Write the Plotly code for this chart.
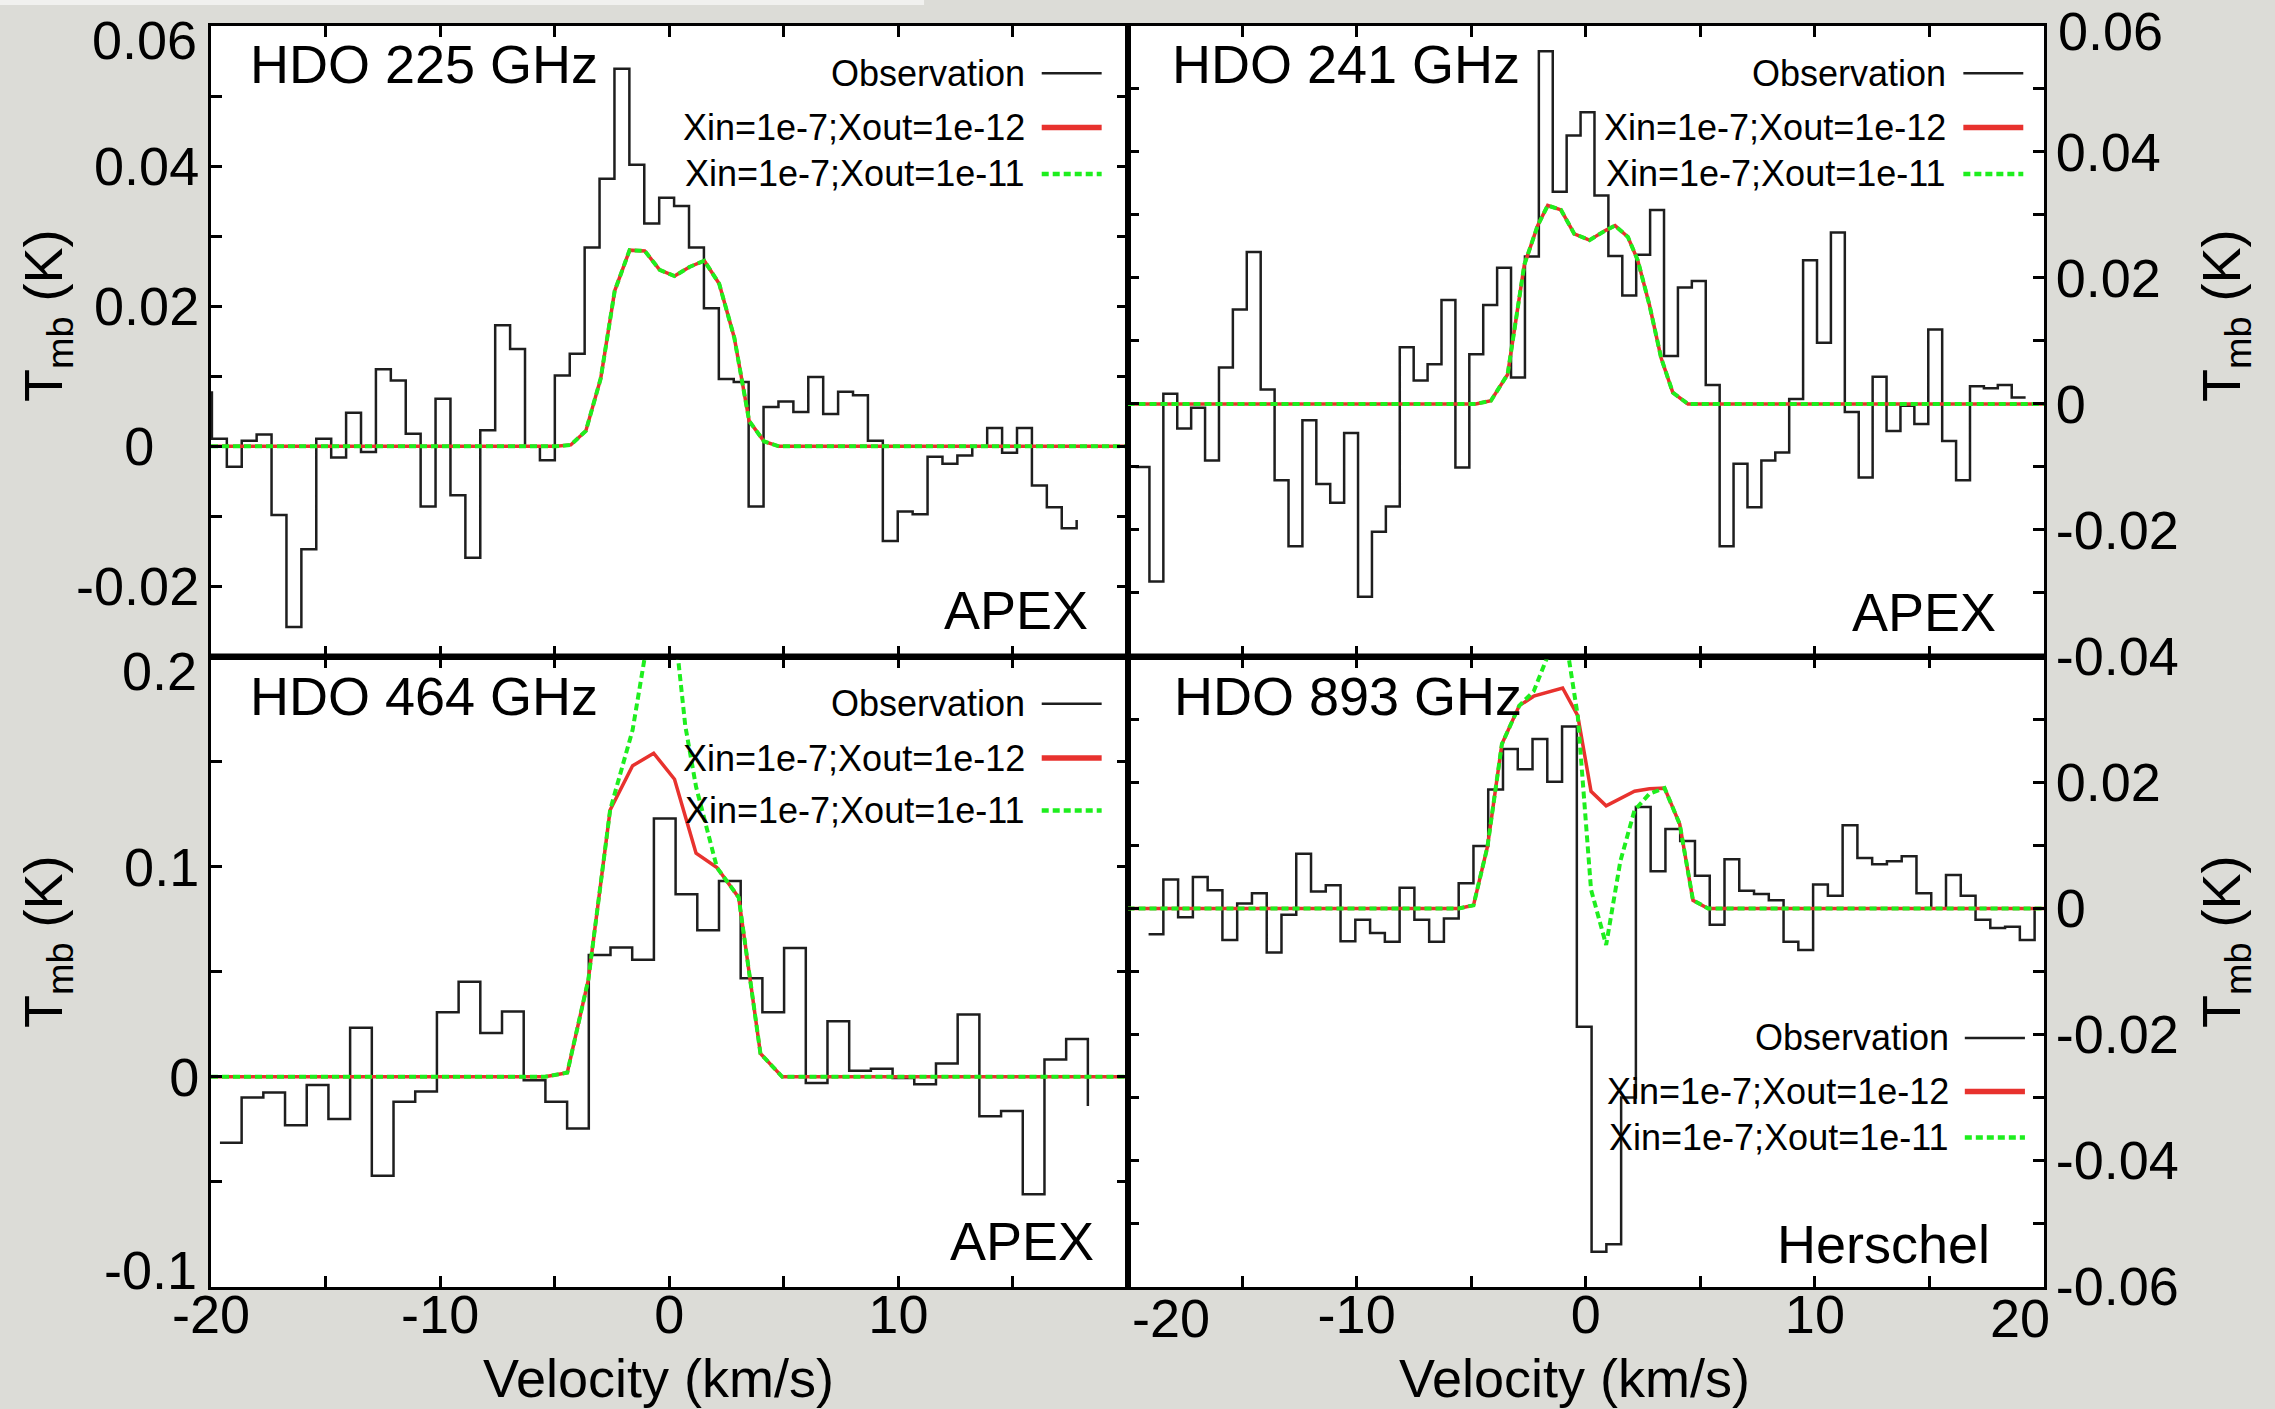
import plotly.graph_objects as go

FONT = "Liberation Sans, Arial, Helvetica, sans-serif"

# ---------------- data ----------------
# Observed spectra: first channel edge, channel width, channel values (K)
tl_edge0, tl_width = -19.96, 0.6507
tl_pre, tl_tail = 0.0077, -0.0105
tl_obs = [0.0011, -0.0029, 0.0008, 0.0017, -0.0098, -0.0258, -0.0147, 0.0011, -0.0016, 0.0048,
          -0.0008, 0.0110, 0.0094, 0.0018, -0.0086, 0.0068, -0.0070, -0.0159, 0.0023, 0.0173,
          0.0139, 0.0000, -0.0020, 0.0101, 0.0132, 0.0284, 0.0382, 0.0539, 0.0402, 0.0318,
          0.0355, 0.0343, 0.0284, 0.0197, 0.0096, 0.0092, -0.0086, 0.0056, 0.0064, 0.0049,
          0.0099, 0.0046, 0.0078, 0.0073, 0.0008, -0.0135, -0.0093, -0.0097, -0.0015, -0.0025,
          -0.0013, 0.0000, 0.0026, -0.0009, 0.0026, -0.0056, -0.0087, -0.0117]

tr_edge0, tr_width = -19.65, 0.607
tr_obs = [-0.0100, -0.0282, 0.0016, -0.0039, -0.0006, -0.0090, 0.0058, 0.0150, 0.0241, 0.0023,
          -0.0121, -0.0226, -0.0026, -0.0127, -0.0157, -0.0046, -0.0306, -0.0203, -0.0163, 0.0090,
          0.0037, 0.0063, 0.0165, -0.0101, 0.0079, 0.0157, 0.0216, 0.0042, 0.0234, 0.0560,
          0.0337, 0.0426, 0.0463, 0.0331, 0.0235, 0.0172, 0.0237, 0.0308, 0.0076, 0.0185,
          0.0195, 0.0030, -0.0226, -0.0095, -0.0164, -0.0090, -0.0077, 0.0008, 0.0228, 0.0097,
          0.0272, -0.0013, -0.0117, 0.0043, -0.0043, -0.0003, -0.0032, 0.0118, -0.0059, -0.0121,
          0.0028, 0.0025, 0.0030, 0.0010]

bl_edge0, bl_width = -19.61, 0.947
bl_tail = -0.0139
bl_obs = [-0.0314, -0.0098, -0.0074, -0.0230, -0.0039, -0.0201, 0.0234, -0.0471, -0.0119, -0.0070,
          0.0307, 0.0453, 0.0209, 0.0311, -0.0016, -0.0119, -0.0246, 0.0580, 0.0615, 0.0557,
          0.1229, 0.0869, 0.0697, 0.0932, 0.0469, 0.0307, 0.0613, -0.0029, 0.0264, 0.0029,
          0.0039, -0.0006, -0.0035, 0.0063, 0.0297, -0.0188, -0.0162, -0.0559, 0.0082, 0.0180]

br_edge0, br_width = -19.08, 0.6445
br_tail = 0.0
br_obs = [-0.0041, 0.0046, -0.0014, 0.0050, 0.0029, -0.0050, 0.0008, 0.0024, -0.0070, -0.0010,
          0.0087, 0.0027, 0.0037, -0.0052, -0.0018, -0.0039, -0.0053, 0.0033, -0.0018, -0.0053,
          -0.0016, 0.0040, 0.0099, 0.0189, 0.0253, 0.0221, 0.0269, 0.0201, 0.0289, -0.0188,
          -0.0545, -0.0533, -0.0300, 0.0161, 0.0059, 0.0126, 0.0107, 0.0052, -0.0026, 0.0078,
          0.0028, 0.0023, 0.0013, -0.0053, -0.0066, 0.0038, 0.0020, 0.0132, 0.0080, 0.0070,
          0.0075, 0.0083, 0.0024, 0.0000, 0.0053, 0.0020, -0.0018, -0.0031, -0.0029, -0.0050]

# Model spectra (velocity, Tmb)
tl_mod_v = [-20, -4.95, -4.30, -3.64, -2.99, -2.38, -1.73, -1.07, -0.42, 0.23, 0.88, 1.53, 2.18, 2.84, 3.49, 4.14, 4.79, 20]
tl_mod_12 = [0, 0, 0.0002, 0.0022, 0.0097, 0.0222, 0.0280, 0.0279, 0.0252, 0.0243, 0.0256, 0.0265, 0.0232, 0.0155, 0.0036, 0.0007, 0, 0]
tl_mod_11 = [0, 0, 0.0002, 0.0022, 0.0097, 0.0222, 0.0280, 0.0279, 0.0252, 0.0243, 0.0256, 0.0265, 0.0232, 0.0155, 0.0036, 0.0007, 0, 0]

tr_mod_v = [-20, -4.80, -4.14, -3.41, -2.68, -2.10, -1.66, -1.08, -0.50, 0.16, 0.89, 1.28, 1.84, 2.27, 2.78, 3.29, 3.80, 4.46, 20]
tr_mod_12 = [0, 0, 0.0005, 0.0047, 0.0221, 0.0283, 0.0315, 0.0308, 0.0270, 0.0260, 0.0276, 0.0283, 0.0265, 0.0228, 0.0157, 0.0073, 0.0018, 0, 0]
tr_mod_11 = [0, 0, 0.0005, 0.0047, 0.0221, 0.0283, 0.0315, 0.0308, 0.0270, 0.0260, 0.0276, 0.0283, 0.0265, 0.0228, 0.0157, 0.0073, 0.0018, 0, 0]

bl_mod_v = [-20, -5.42, -4.45, -3.53, -2.58, -1.60, -0.68, 0.23, 0.70, 1.17, 2.08, 3.03, 3.98, 4.93, 20]
bl_mod_12 = [0, 0, 0.002, 0.0463, 0.127, 0.148, 0.154, 0.1416, 0.124, 0.1064, 0.0996, 0.0854, 0.0111, 0, 0]
bl_mod_11 = [0, 0, 0.002, 0.0463, 0.127, 0.165, 0.225, 0.215, 0.167, 0.138, 0.0996, 0.0854, 0.0111, 0, 0]

br_mod_v = [-20, -5.55, -4.90, -4.29, -3.66, -2.90, -2.27, -1.64, -1.01, -0.35, 0.23, 0.89, 1.51, 2.13, 2.78, 3.44, 4.10, 4.68, 5.34, 20]
br_mod_12 = [0, 0, 0.0005, 0.0098, 0.0261, 0.0322, 0.0337, 0.0343, 0.0350, 0.0306, 0.0186, 0.0163, 0.0175, 0.0186, 0.0190, 0.0191, 0.0134, 0.0013, 0, 0]
br_mod_11 = [0, 0, 0.0005, 0.0098, 0.0261, 0.0322, 0.0345, 0.0400, 0.0460, 0.0306, 0.0030, -0.0058, 0.0075, 0.0156, 0.0182, 0.0191, 0.0134, 0.0013, 0, 0]

# Axis ticks (labelled major ticks + unlabelled minor ticks)
x_ticks_top = [-20, -10, 0, 10, 20]
x_minor_top = [-15, -5, 5, 15]
x_ticks_left = [-20, -10, 0, 10]
x_labels_left = ["-20", "-10", "0", "10"]
x_minor_left = [-15, -5, 5, 15, 20]
x_ticks_right = [-10, 0, 10]
x_labels_right = ["-10", "0", "10"]
x_minor_right = [-20, -15, -5, 5, 15, 20]

tl_yticks = [-0.02, 0, 0.02, 0.04]
tl_ylabels = ["-0.02", "0&nbsp;&nbsp;&nbsp;", "0.02", "0.04"]
tl_yminor = [-0.03, -0.01, 0.01, 0.03, 0.05, 0.06]
tr_yticks = [-0.04, -0.02, 0, 0.02, 0.04]
tr_ylabels = ["-0.04", "-0.02", "0", "0.02", "0.04"]
tr_yminor = [-0.03, -0.01, 0.01, 0.03, 0.05, 0.06]
bl_yticks = [0, 0.1]
bl_ylabels = ["0", "0.1"]
bl_yminor = [-0.1, -0.05, 0.05, 0.15, 0.2]
br_yticks = [-0.06, -0.04, -0.02, 0, 0.02]
br_ylabels = ["-0.06", "-0.04", "-0.02", "0", "0.02"]
br_yminor = [-0.05, -0.03, -0.01, 0.01, 0.03, 0.04]

# tick labels at panel edges, nudged inward in the reference: (text, axis, value, nudge px)
edge_labels = [("0.06", "y", 0.06, -14), ("0.06", "y2", 0.06, -5), ("0.2", "y3", 0.2, -14),
               ("-0.1", "y3", -0.1, 17), ("-20", "x4", -20, 43), ("20", "x4", 20, -24)]

panel_titles = ["HDO 225 GHz", "HDO 241 GHz", "HDO 464 GHz", "HDO 893 GHz"]
telescopes = ["APEX", "APEX", "APEX", "Herschel"]
series_names = ["Observation", "Xin=1e-7;Xout=1e-12", "Xin=1e-7;Xout=1e-11"]

# ---------------- styling ----------------
OBS_COLOR = "#1e1e1e"
RED = "#e8322e"
GREEN = "#1eee1e"
GREEN_DASH = "7px,4px"


def step_xy(edge0, width, vals, pre=None, tail=None):
    xs, ys = [], []
    if pre is not None:
        xs += [edge0 - width, edge0]
        ys += [pre, pre]
    for i, v in enumerate(vals):
        xs += [edge0 + i * width, edge0 + (i + 1) * width]
        ys += [v, v]
    if tail is not None:
        xs.append(edge0 + len(vals) * width)
        ys.append(tail)
    return xs, ys


fig = go.Figure()

panels = [
    ("x", "y", step_xy(tl_edge0, tl_width, tl_obs, tl_pre, tl_tail), tl_mod_v, tl_mod_12, tl_mod_11),
    ("x2", "y2", step_xy(tr_edge0, tr_width, tr_obs), tr_mod_v, tr_mod_12, tr_mod_11),
    ("x3", "y3", step_xy(bl_edge0, bl_width, bl_obs, None, bl_tail), bl_mod_v, bl_mod_12, bl_mod_11),
    ("x4", "y4", step_xy(br_edge0, br_width, br_obs, None, br_tail), br_mod_v, br_mod_12, br_mod_11),
]

for xa, ya, (sx, sy), mv, m12, m11 in panels:
    fig.add_trace(go.Scatter(x=sx, y=sy, mode="lines", xaxis=xa, yaxis=ya, name=series_names[0],
                             line=dict(color=OBS_COLOR, width=2.5), showlegend=False))
    fig.add_trace(go.Scatter(x=mv, y=m12, mode="lines", xaxis=xa, yaxis=ya, name=series_names[1],
                             line=dict(color=RED, width=3.5), showlegend=False))
    fig.add_trace(go.Scatter(x=mv, y=m11, mode="lines", xaxis=xa, yaxis=ya, name=series_names[2],
                             line=dict(color=GREEN, width=4, dash=GREEN_DASH), showlegend=False))

axis_common = dict(showline=True, linecolor="black", linewidth=3, mirror="ticks",
                   ticks="inside", ticklen=11, tickwidth=3, tickcolor="black",
                   showgrid=False, zeroline=False, automargin=False, tickmode="array",
                   ticklabeloverflow="allow",
                   tickfont=dict(size=54, family=FONT, color="black"))


def minor(vals):
    return dict(tickmode="array", tickvals=vals, ticks="inside", ticklen=11, tickwidth=3,
                tickcolor="black", showgrid=False)


fig.update_layout(
    width=2275, height=1409,
    margin=dict(l=211, r=231, t=26, b=122),
    paper_bgcolor="#dcdcd7", plot_bgcolor="white",
    template="none", showlegend=False,
    font=dict(family=FONT, color="black"),
    xaxis=dict(domain=[0, 0.5], anchor="y", range=[-20, 20], tickvals=x_ticks_top,
               minor=minor(x_minor_top), showticklabels=False, **axis_common),
    yaxis=dict(domain=[0.5, 1], anchor="x", range=[-0.03, 0.06], tickvals=tl_yticks,
               ticktext=tl_ylabels, minor=minor(tl_yminor), ticklabelstandoff=-2, **axis_common),
    xaxis2=dict(domain=[0.5, 1], anchor="y2", range=[-20, 20], tickvals=x_ticks_top,
                minor=minor(x_minor_top), showticklabels=False, **axis_common),
    yaxis2=dict(domain=[0.5, 1], anchor="x2", side="right", range=[-0.0401, 0.06], tickvals=tr_yticks,
                ticktext=tr_ylabels, minor=minor(tr_yminor), ticklabelstandoff=-2, **axis_common),
    xaxis3=dict(domain=[0, 0.5], anchor="y3", range=[-20, 20], tickvals=x_ticks_left,
                ticktext=x_labels_left, minor=minor(x_minor_left), ticklabelstandoff=-22, **axis_common),
    yaxis3=dict(domain=[0, 0.5], anchor="x3", range=[-0.1, 0.2], tickvals=bl_yticks,
                ticktext=bl_ylabels, minor=minor(bl_yminor), ticklabelstandoff=-2, **axis_common),
    xaxis4=dict(domain=[0.5, 1], anchor="y4", range=[-20, 20], tickvals=x_ticks_right,
                ticktext=x_labels_right, minor=minor(x_minor_right), ticklabelstandoff=-22, **axis_common),
    yaxis4=dict(domain=[0, 0.5], anchor="x4", side="right", range=[-0.0601, 0.04], tickvals=br_yticks,
                ticktext=br_ylabels, minor=minor(br_yminor), ticklabelstandoff=-2, **axis_common),
)

ann = []
big = dict(size=54, family=FONT, color="black")
leg = dict(size=36, family=FONT, color="black")

# panel titles
for txt, (x, y) in zip(panel_titles, [(0.020, 0.9695), (0.5232, 0.9695), (0.020, 0.4687), (0.5241, 0.4687)]):
    ann.append(dict(text=txt, x=x, y=y, xref="paper", yref="paper", xanchor="left", yanchor="middle",
                    showarrow=False, font=big))
# telescope labels
for txt, (x, y) in zip(telescopes, [(0.4795, 0.5370), (0.9749, 0.5353), (0.4827, 0.0365), (0.9714, 0.0338)]):
    ann.append(dict(text=txt, x=x, y=y, xref="paper", yref="paper", xanchor="right", yanchor="middle",
                    showarrow=False, font=big))

# legends (text right-aligned, sample line to the right)
legend_blocks = [
    (0.4450, 0.4532, 0.4859, [0.9625, 0.9195, 0.8827]),
    (0.9478, 0.9560, 0.9887, [0.9625, 0.9195, 0.8827]),
    (0.4450, 0.4532, 0.4859, [0.4625, 0.4195, 0.3779]),
    (0.9491, 0.9568, 0.9896, [0.1975, 0.1550, 0.1186]),
]
shapes = []
styles = [dict(color=OBS_COLOR, width=2.5), dict(color=RED, width=5.5),
          dict(color=GREEN, width=4.5, dash=GREEN_DASH)]
for tx, lx0, lx1, rows in legend_blocks:
    for name, yy, st in zip(series_names, rows, styles):
        ann.append(dict(text=name, x=tx, y=yy, xref="paper", yref="paper", xanchor="right",
                        yanchor="middle", showarrow=False, font=leg))
        shapes.append(dict(type="line", xref="paper", yref="paper", x0=lx0, x1=lx1, y0=yy, y1=yy,
                           line=st))

# axis titles
for x in (0.2439, 0.7436):
    ann.append(dict(text="Velocity (km/s)", x=x, y=-0.0722, xref="paper", yref="paper",
                    xanchor="center", yanchor="middle", showarrow=False, font=big))
for x in (-0.0895, 1.0987):
    for y in (0.7708, 0.2744):
        ann.append(dict(text="T<sub>mb</sub> (K)", x=x, y=y, xref="paper", yref="paper",
                        xanchor="center", yanchor="middle", textangle=-90, showarrow=False, font=big))

# edge tick labels, nudged inward as in the reference
for txt, ref, val, nudge in edge_labels:
    if ref == "y":
        ann.append(dict(text=txt, x=-0.0065, y=val, xref="paper", yref=ref, xanchor="right",
                        yanchor="middle", yshift=nudge, showarrow=False, font=big))
    elif ref == "y3":
        ann.append(dict(text=txt, x=-0.0065, y=val, xref="paper", yref="y3", xanchor="right",
                        yanchor="middle", yshift=nudge, showarrow=False, font=big))
    elif ref == "y2":
        ann.append(dict(text=txt, x=1.0065, y=val, xref="paper", yref="y2", xanchor="left",
                        yanchor="middle", yshift=nudge, showarrow=False, font=big))
    else:
        ann.append(dict(text=txt, x=val, y=-0.0246, xref=ref, yref="paper", xanchor="center",
                        yanchor="middle", xshift=nudge, showarrow=False, font=big))

# thick shared middle border and faint top strip
shapes.append(dict(type="line", xref="paper", yref="paper", x0=0, x1=1, y0=0.5, y1=0.5,
                   line=dict(color="black", width=6)))
shapes.append(dict(type="rect", xref="paper", yref="paper", x0=-0.1151, x1=0.389, y0=1.0166, y1=1.0206,
                   line=dict(width=0), fillcolor="#f1f1ef", layer="below"))

fig.update_layout(annotations=ann, shapes=shapes)
fig.write_html("out.html")
